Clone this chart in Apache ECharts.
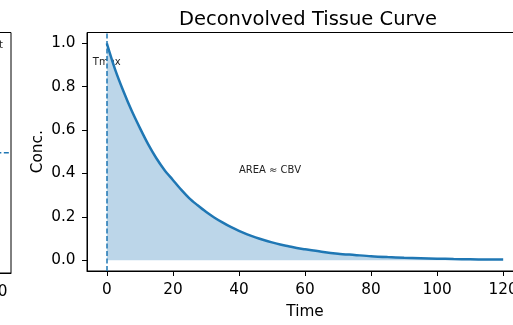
<!DOCTYPE html>
<html>
<head>
<meta charset="utf-8">
<script src="https://cdn.jsdelivr.net/npm/echarts@6/dist/echarts.min.js"></script>
<style>
  html, body { margin: 0; padding: 0; background: #fff; overflow: hidden; width: 513px; height: 325px; }
  #wrap { position: relative; width: 513px; height: 325px; overflow: hidden; }
  /* the canvas is wider than the window: the left panel is cut off as in the original */
  #chart { position: absolute; left: -425px; top: 0; width: 960px; height: 325px; }
</style>
</head>
<body>
<div id="wrap"><div id="chart"></div></div>
<script>
// time points and tissue concentration
var time = [0, 2.5, 5, 7.5, 10, 12.5, 15, 17.5, 20, 22.5, 25, 27.5, 30, 32.5, 35, 37.5, 40, 42.5, 45, 47.5, 50, 52.5, 55, 57.5, 60,
            65, 70, 75, 80, 85, 90, 95, 100, 105, 110, 115, 120];
var conc = [1.00, 0.88, 0.78, 0.69, 0.61, 0.535, 0.47, 0.415, 0.37, 0.325, 0.285, 0.253, 0.223, 0.197, 0.174, 0.153, 0.135, 0.119, 0.105, 0.093, 0.082, 0.072, 0.064, 0.056, 0.050,
            0.039, 0.030, 0.024, 0.018, 0.014, 0.011, 0.009, 0.007, 0.005, 0.004, 0.003, 0.0025];
var xTicks = [0, 20, 40, 60, 80, 100, 120];
var yTicks = [0, 0.2, 0.4, 0.6, 0.8, 1.0];
var tmax = 0;
var leftLevel = 0.5;   // dashed level of the cut-off left panel
var leftX = [-6, 126];

var FONT = 'DejaVu Sans';
var blue = '#1f77b4';
var SHIFT = 425;       // how far the canvas sticks out to the left
var LBL = 15.3;

var curve = [];
for (var i = 0; i < time.length; i++) {
    curve.push([time[i], conc[i]]);
}

function axisX(grid, withName) {
    return {
        type: 'value', gridIndex: grid, min: -6, max: 126,
        axisLine: { show: true, onZero: false, lineStyle: { color: '#000', width: 1 } },
        axisTick: { show: true, length: 5, customValues: xTicks, lineStyle: { color: '#000', width: 1 } },
        axisLabel: { customValues: xTicks, fontSize: LBL, color: '#000', fontFamily: FONT, margin: 12 },
        splitLine: { show: false },
        name: withName ? 'Time' : '', nameLocation: 'middle', nameGap: 34,
        nameTextStyle: { fontSize: LBL, color: '#000', fontFamily: FONT }
    };
}
function axisY(grid, withName) {
    return {
        type: 'value', gridIndex: grid, min: -0.05, max: 1.05,
        axisLine: { show: true, onZero: false, lineStyle: { color: '#000', width: 1 } },
        axisTick: { show: true, length: 5, customValues: yTicks, lineStyle: { color: '#000', width: 1 } },
        axisLabel: {
            customValues: yTicks, fontSize: LBL, color: '#000', fontFamily: FONT, margin: 11.5,
            formatter: function (v) { return v.toFixed(1); }
        },
        splitLine: { show: false },
        name: withName ? 'Conc.' : '', nameLocation: 'middle', nameGap: 41,
        nameTextStyle: { fontSize: LBL, color: '#000', fontFamily: FONT }
    };
}

var chart = echarts.init(document.getElementById('chart'), null, { renderer: 'canvas' });
chart.setOption({
    backgroundColor: '#fff',
    animation: false,
    title: {
        text: 'Deconvolved Tissue Curve',
        left: 303 + SHIFT, top: 5, textAlign: 'center',
        textStyle: { fontSize: 19.5, fontWeight: 'normal', color: '#000', fontFamily: FONT }
    },
    grid: [
        { left: 87 + SHIFT, top: 32.5, width: 436, height: 240.5, show: true, borderColor: '#000', borderWidth: 1 },
        { left: 11 + SHIFT - 436, top: 32.5, width: 436, height: 240.5, show: true, borderColor: '#000', borderWidth: 1 }
    ],
    xAxis: [axisX(0, true), axisX(1, false)],
    yAxis: [axisY(0, true), axisY(1, false)],
    series: [
        {
            type: 'line', xAxisIndex: 0, yAxisIndex: 0,
            data: curve, showSymbol: false, smooth: 0.3,
            lineStyle: { color: blue, width: 2.5 },
            areaStyle: { color: 'rgb(188,214,233)', opacity: 1 },
            markLine: {
                silent: true, symbol: 'none', label: { show: false },
                lineStyle: { color: blue, width: 1.5, type: [5, 2.5] },
                data: [{ xAxis: tmax }]
            }
        },
        {
            type: 'line', xAxisIndex: 1, yAxisIndex: 1,
            data: [[leftX[0], leftLevel], [leftX[1], leftLevel]],
            showSymbol: false,
            lineStyle: { color: blue, width: 1.5, type: [5, 2.5] }
        }
    ]
});

// annotations placed through the main axes
var pT = chart.convertToPixel({ gridIndex: 0 }, [tmax, 0.9]);
var pA = chart.convertToPixel({ gridIndex: 0 }, [40, 0.4]);
chart.setOption({
    graphic: [
        { type: 'text', x: pT[0], y: pT[1] + 2, style: { text: 'Tmax', fontSize: 10, fontFamily: FONT, fill: '#222', align: 'center', verticalAlign: 'bottom' } },
        { type: 'text', x: pA[0], y: pA[1] + 2, style: { text: 'AREA ≈ CBV', fontSize: 10, fontFamily: FONT, fill: '#222', align: 'left', verticalAlign: 'bottom' } },
        { type: 'text', x: 3 + SHIFT, y: 50, style: { text: 'Arterial Input', fontSize: 10, fontFamily: FONT, fill: '#222', align: 'right', verticalAlign: 'bottom' } }
    ]
});
</script>
</body>
</html>
